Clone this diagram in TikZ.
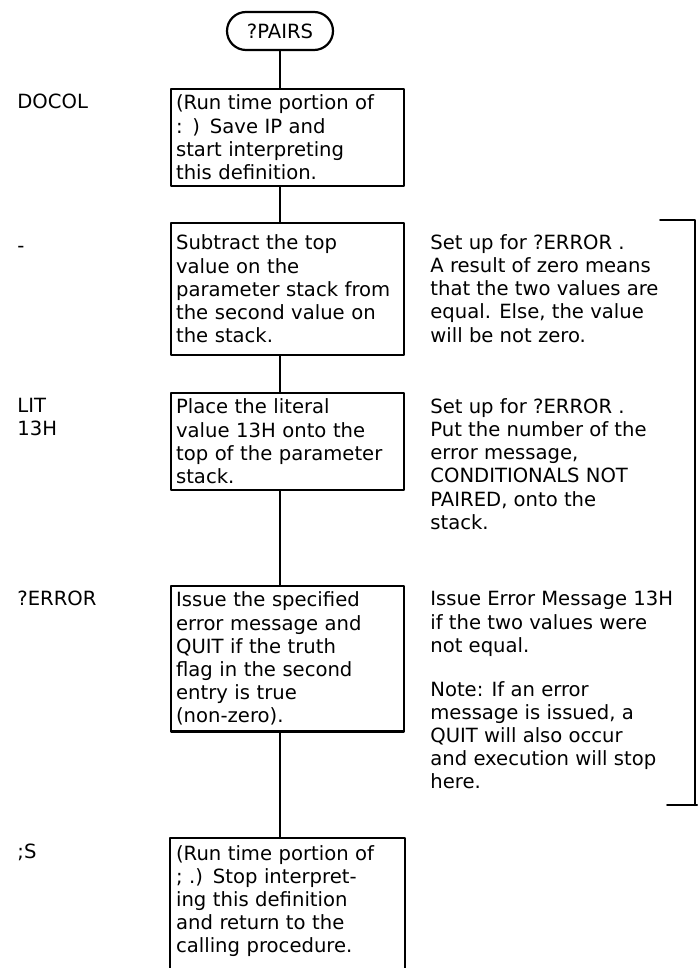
\documentclass[tikz,border=0pt]{standalone}
\usepackage{fontspec}
\setmainfont{DejaVu Sans}
\usetikzlibrary{positioning}

\begin{document}
\begin{tikzpicture}[line cap=round,line join=round,x=0.5pt,y=-0.5pt,
    font=\fontsize{9.8}{11.6}\selectfont,
    every node/.style={inner xsep=2.5pt,inner ysep=3pt},
    op/.style={draw,line width=1.1pt,anchor=north west,align=left,text width=111.5pt},
    word/.style={anchor=north west,align=left},
    remark/.style={anchor=north west,align=left}]
	\useasboundingbox (0,0) rectangle (697,968);
	\coordinate (lblx) at (12,0);
	\coordinate (remx) at (425,0);
	% Start
	\node[draw,line width=1.1pt,rounded corners=9.5pt,minimum width=53pt,minimum height=19pt] (pairs) at (280,31) {?PAIRS};
	% Boxes
	\node[op] (docolbox) at (170,88) {(Run time portion of\\: ) Save IP and\\start interpreting\\this definition.};
	\node[op,inner ysep=6pt] (subbox) at (170,222) {Subtract the top\\value on the\\parameter stack from\\the second value on\\the stack.};
	\node[op] (litbox) at (170,392) {Place the literal\\value 13H onto the\\top of the parameter\\stack.};
	\node[op] (errbox) at (170,585) {Issue the specified\\error message and\\QUIT if the truth\\flag in the second\\entry is true\\(non-zero).};
	\node[op,draw=none] (semibox) at (170,838) {(Run time portion of\\; .) Stop interpret-\\ing this definition\\and return to the\\calling procedure.};
	\draw[line width=1.1pt] (semibox.north west) rectangle ([yshift=-20pt]semibox.south east);
	% Words
	\node[word] (docol) at (docolbox.north west -| lblx) {DOCOL};
	\node[word,inner ysep=6pt,yshift=-2pt] (minus) at (subbox.north west -| lblx) {\vphantom{S}-};
	\node[word] (lit) at (litbox.north west -| lblx) {LIT\\13H};
	\node[word] (qerror) at (errbox.north west -| lblx) {?ERROR};
	\node[word] (semis) at (semibox.north west -| lblx) {;S};
	% Remarks
	\node[remark,inner ysep=6pt] (subrem) at (subbox.north west -| remx) {Set up for ?ERROR .\\A result of zero means\\that the two values are\\equal. Else, the value\\will be not zero.};
	\node[remark] (litrem) at (litbox.north west -| remx) {Set up for ?ERROR .\\Put the number of the\\error message,\\CONDITIONALS NOT\\PAIRED, onto the\\stack.};
	\node[remark] (errrem) at (errbox.north west -| remx) {Issue Error Message 13H\\if the two values were\\not equal.};
	\node[remark,below=6pt of errrem.south west,anchor=north west] (note) {Note: If an error\\message is issued, a\\QUIT will also occur\\and execution will stop\\here.};
	% Connectors
	\draw[line width=1.1pt] (pairs.south) -- (docolbox.north -| pairs);
	\foreach \a/\b in {docolbox/subbox,subbox/litbox,litbox/errbox,errbox/semibox}
		\draw[line width=1.1pt] (\a.south -| pairs) -- (\b.north -| pairs);
	% Bracket
	\coordinate (brtop) at (660,220);
	\coordinate (brbot) at (667,805);
	\draw[line width=1pt] (brtop) -- (695,220) -- (695,805);
	\draw[line width=1pt] (brbot) -- (697,805);
\end{tikzpicture}
\end{document}
